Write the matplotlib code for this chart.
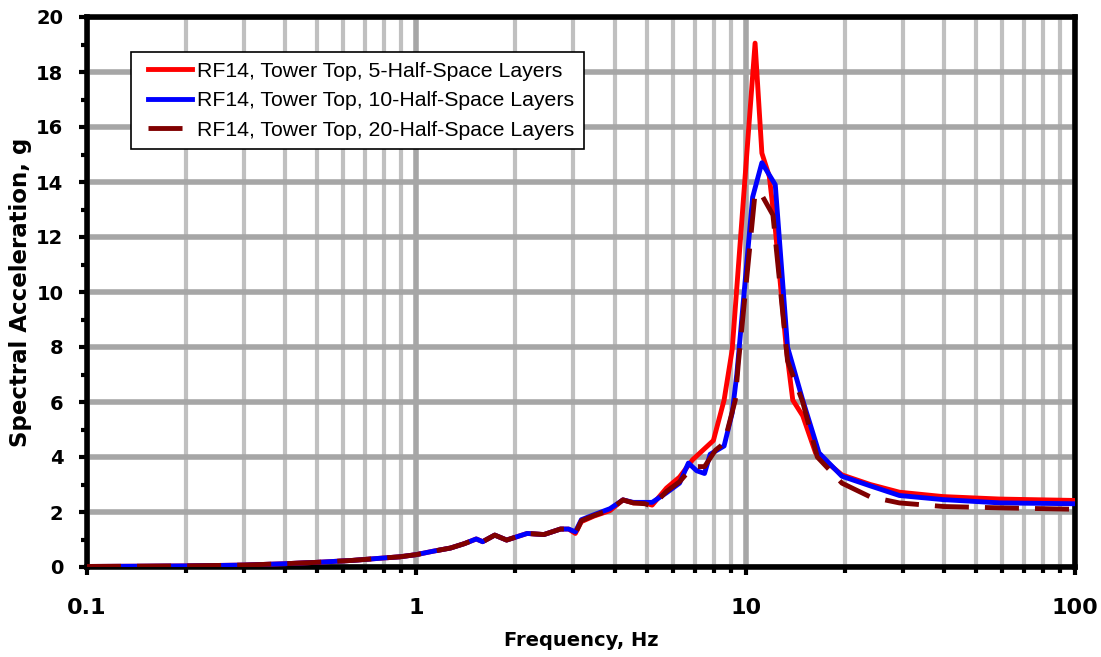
import numpy as np
import matplotlib
matplotlib.use("Agg")
import matplotlib.pyplot as plt
from matplotlib.lines import Line2D
from matplotlib.legend_handler import HandlerLine2D
from matplotlib.ticker import LogLocator, MultipleLocator, FixedLocator, FixedFormatter

# frequencies (Hz) and spectral accelerations (g)
freq_5 = [0.1, 0.15, 0.2, 0.3, 0.4, 0.5, 0.64, 0.8, 0.89, 1.0, 1.12, 1.27, 1.4, 1.52, 1.59,
          1.73, 1.88, 2.17, 2.44, 2.74, 2.9, 3.04, 3.17, 3.46, 3.87, 4.24, 4.56, 4.95, 5.2,
          5.75, 6.3, 6.9, 7.98, 8.6, 9.1, 10.68, 11.2, 11.8, 12.3, 13.3, 13.9, 14.9, 16.3,
          19.6, 23.9, 29.3, 39.8, 59.4, 100]
sa_5 = [0.02, 0.03, 0.04, 0.07, 0.12, 0.17, 0.24, 0.33, 0.37, 0.45, 0.57, 0.69, 0.85, 1.02, 0.92,
        1.16, 0.98, 1.22, 1.18, 1.38, 1.38, 1.22, 1.65, 1.85, 2.05, 2.44, 2.33, 2.33, 2.25,
        2.87, 3.27, 3.9, 4.6, 6.07, 7.9, 19.05, 15.05, 14.2, 12.3, 7.9, 6.07, 5.5, 4.15,
        3.35, 3.0, 2.72, 2.56, 2.47, 2.42]

freq_10 = [0.1, 0.15, 0.2, 0.3, 0.4, 0.5, 0.64, 0.8, 0.89, 1.0, 1.12, 1.27, 1.4, 1.52, 1.59,
           1.73, 1.88, 2.17, 2.44, 2.74, 2.9, 3.04, 3.17, 3.46, 3.87, 4.24, 4.56, 4.95, 5.2,
           5.75, 6.3, 6.7, 7.1, 7.5, 7.8, 8.6, 9.1, 9.4, 10.5, 11.2, 12.3, 13.4, 14.9, 16.7,
           19.6, 23.9, 29.3, 39.8, 59.4, 100]
sa_10 = [0.02, 0.03, 0.04, 0.07, 0.12, 0.17, 0.24, 0.33, 0.37, 0.45, 0.57, 0.69, 0.85, 1.02, 0.92,
         1.16, 0.98, 1.22, 1.18, 1.38, 1.38, 1.28, 1.72, 1.9, 2.12, 2.44, 2.35, 2.35, 2.35,
         2.7, 3.05, 3.78, 3.5, 3.4, 4.1, 4.4, 5.6, 7.0, 13.45, 14.7, 13.9, 8.0, 6.07, 4.15,
         3.3, 2.95, 2.6, 2.45, 2.33, 2.3]

freq_20 = [0.1, 0.15, 0.2, 0.3, 0.4, 0.5, 0.64, 0.8, 0.89, 1.0, 1.12, 1.27, 1.4, 1.52, 1.59,
           1.73, 1.88, 2.17, 2.44, 2.74, 2.9, 3.04, 3.17, 3.46, 3.87, 4.24, 4.56, 4.95, 5.2,
           5.75, 6.3, 6.9, 7.5, 8.1, 8.6, 9.3, 9.5, 10.68, 11.1, 12.1, 13.4, 14.9, 16.5,
           19.6, 23.9, 29.3, 39.8, 59.4, 100]
sa_20 = [0.02, 0.03, 0.04, 0.07, 0.12, 0.17, 0.24, 0.33, 0.37, 0.45, 0.57, 0.69, 0.85, 1.02, 0.92,
         1.16, 0.98, 1.22, 1.18, 1.38, 1.38, 1.22, 1.68, 1.87, 2.08, 2.44, 2.33, 2.3, 2.2,
         2.75, 3.1, 3.65, 3.65, 4.25, 4.5, 6.07, 7.4, 13.6, 13.6, 12.8, 7.5, 6.0, 4.0,
         3.05, 2.55, 2.33, 2.2, 2.15, 2.1]

labels = ["RF14, Tower Top, 5-Half-Space Layers",
          "RF14, Tower Top, 10-Half-Space Layers",
          "RF14, Tower Top, 20-Half-Space Layers"]

x_ticks = [0.1, 1, 10, 100]
x_ticklabels = ['0.1', '1', '10', '100']

plt.rcParams['font.family'] = ['DejaVu Sans']

fig = plt.figure(figsize=(11.01, 6.57), dpi=100)
ax = fig.add_axes([87 / 1101, 90 / 657, 988 / 1101, 550 / 657])

ax.plot(freq_5, sa_5, color='#ff0000', lw=3.5, label=labels[0], zorder=3)
ax.plot(freq_10, sa_10, color='#0000ff', lw=3.5, label=labels[1], zorder=4)
ax.plot(freq_20, sa_20, color='#800000', lw=3.5, dashes=(7, 3.3), label=labels[2], zorder=5)

ax.set_xscale('log')
ax.set_xlim(0.1, 100)
ax.set_ylim(0, 20)

ax.xaxis.set_major_locator(FixedLocator(x_ticks))
ax.xaxis.set_major_formatter(FixedFormatter(x_ticklabels))
ax.xaxis.set_minor_locator(LogLocator(base=10, subs=np.arange(2, 10)))
ax.xaxis.set_minor_formatter(FixedFormatter([]))
ax.yaxis.set_major_locator(MultipleLocator(2))
ax.yaxis.set_minor_locator(MultipleLocator(1))

ax.grid(which='major', axis='x', color='#a6a6a6', lw=4, zorder=1)
ax.grid(which='minor', axis='x', color='#c0c0c0', lw=3, zorder=1)
ax.grid(which='major', axis='y', color='#a6a6a6', lw=4, zorder=1)
ax.set_axisbelow(True)

for s in ax.spines.values():
    s.set_linewidth(4)
    s.set_color('black')

ax.tick_params(which='major', direction='out', length=6, width=3, color='black')
ax.tick_params(which='minor', direction='out', length=4.5, width=3, color='black')
ax.tick_params(axis='x', which='major', pad=16, labelsize=16)
ax.tick_params(axis='y', which='major', pad=11, labelsize=14)
for t in ax.get_xticklabels() + ax.get_yticklabels():
    t.set_fontweight('bold')

ax.set_xlabel('Frequency, Hz', fontsize=14, fontweight='bold', labelpad=10)
ax.set_ylabel('Spectral Acceleration, g', fontsize=16.5, fontweight='bold', labelpad=3)

leg = ax.legend(loc='upper left', bbox_to_anchor=(0.0445, 0.936), borderaxespad=0,
                prop={'family': 'Liberation Sans', 'size': 15.3},
                frameon=True, fancybox=False, handlelength=2.42,
                handletextpad=0.24, labelspacing=0.49, borderpad=0.45,
                handler_map={Line2D: HandlerLine2D(xpad=0.35)})
leg.get_frame().set_edgecolor('black')
leg.get_frame().set_linewidth(1.2)
leg.get_frame().set_alpha(1)

fig.savefig('out.png', dpi=100)
